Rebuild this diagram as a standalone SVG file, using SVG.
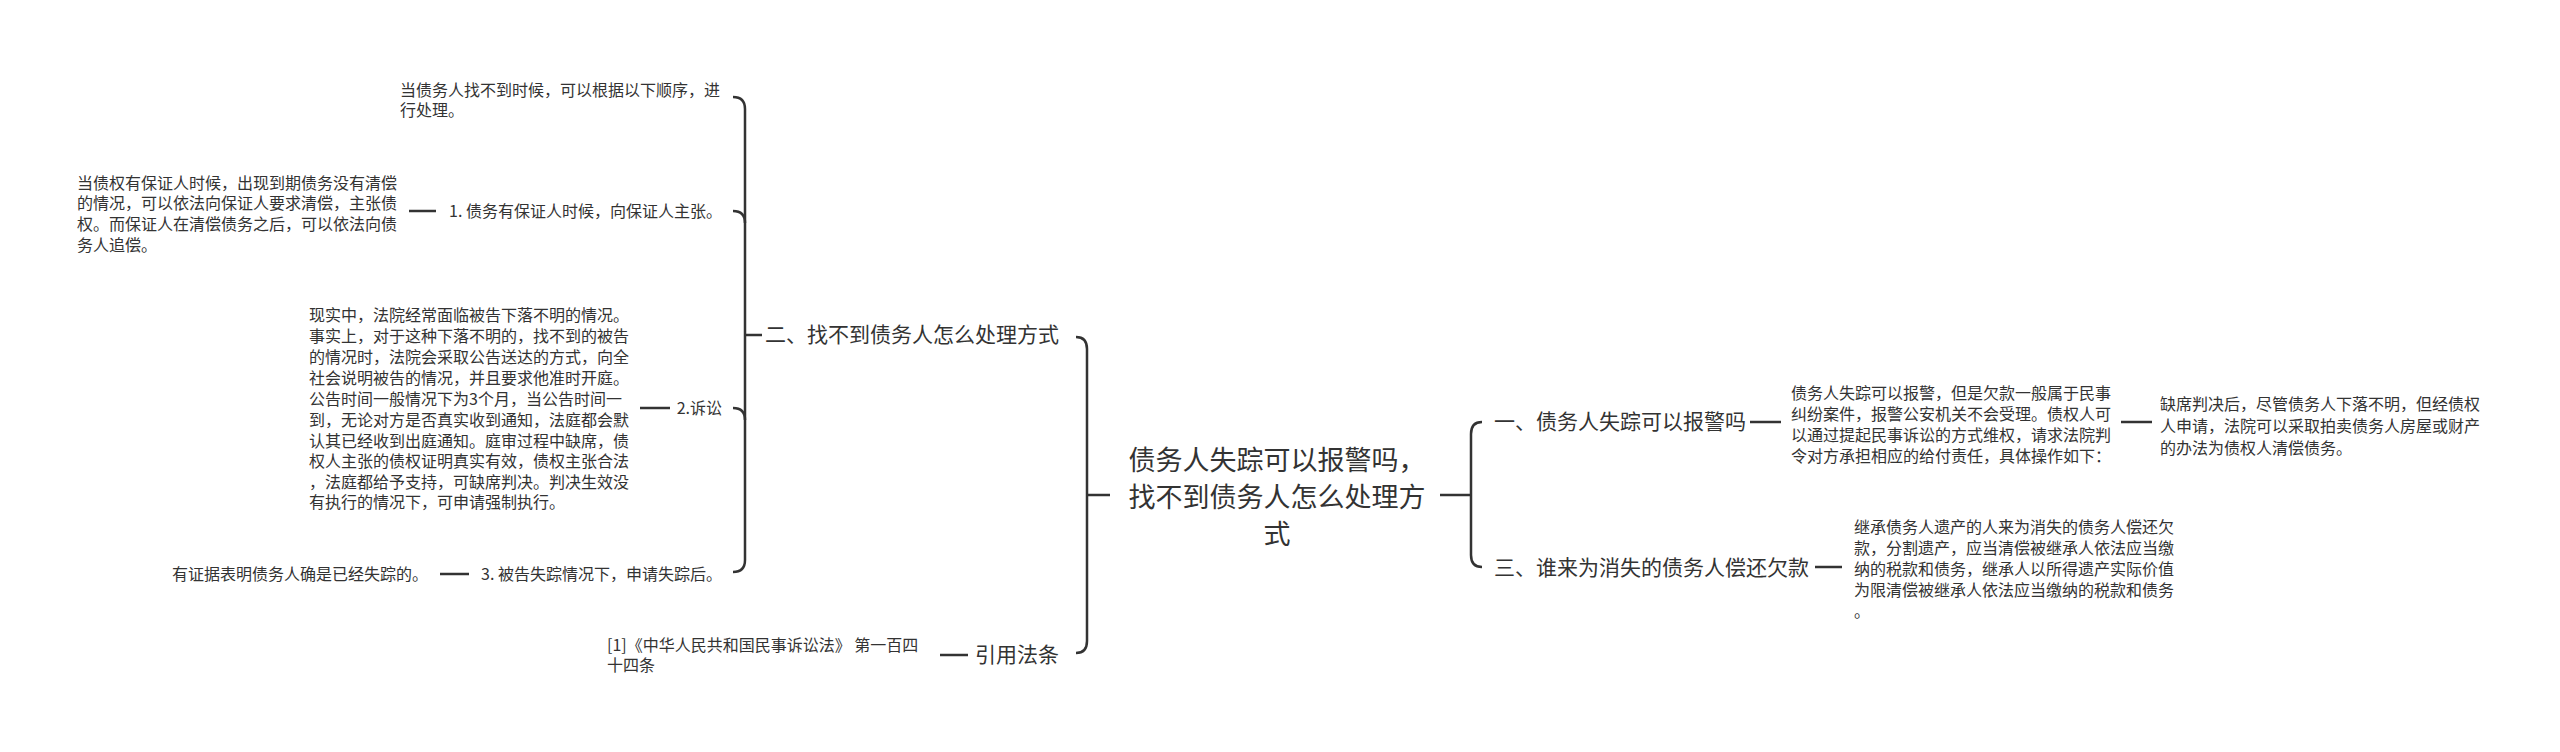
<svg xmlns="http://www.w3.org/2000/svg" width="2560" height="752" viewBox="0 0 2560 752">
<style>
text{font-family:"Noto Sans CJK SC","Liberation Sans",sans-serif;fill:#333}
.s{font-size:16px}.m{font-size:21px}.r{font-size:27px}
.c path,.c line{stroke:#333;stroke-width:2.5;fill:none}
</style>
<rect width="2560" height="752" fill="#fff"/>
<g class="c" id="connectors">
<!-- root right bracket -->
<line x1="1440" y1="495" x2="1471" y2="495"/>
<path d="M1482 422 Q1471 422 1471 434 V555 Q1471 567 1482 567"/>
<line x1="1750" y1="422" x2="1781" y2="422"/>
<line x1="2121" y1="422" x2="2152" y2="422"/>
<line x1="1815" y1="567" x2="1842" y2="567"/>
<!-- root left bracket -->
<line x1="1087" y1="495" x2="1110" y2="495"/>
<path d="M1076 337 Q1087 337 1087 349 V641 Q1087 653 1076 653"/>
<line x1="940" y1="655" x2="968" y2="655"/>
<!-- 二 bracket -->
<line x1="745" y1="335" x2="762" y2="335"/>
<path d="M733 97 Q745 97 745 109 V560 Q745 572 733 572"/>
<path d="M733 211 Q745 211 745 223"/>
<path d="M733 408 Q745 408 745 420"/>
<line x1="409" y1="211" x2="436" y2="211"/>
<line x1="640" y1="408" x2="670" y2="408"/>
<line x1="440" y1="574" x2="469" y2="574"/>
</g>
<g id="root"><text class="r" x="1277" y="470" text-anchor="middle">债务人失踪可以报警吗，</text><text class="r" x="1277" y="507" text-anchor="middle">找不到债务人怎么处理方</text><text class="r" x="1277" y="544" text-anchor="middle">式</text></g>
<g id="n1"><text class="m" x="1494" y="429">一、债务人失踪可以报警吗</text></g>
<g id="n1a" class="s"><text x="1791" y="399">债务人失踪可以报警，但是欠款一般属于民事</text><text x="1791" y="420">纠纷案件，报警公安机关不会受理。债权人可</text><text x="1791" y="441">以通过提起民事诉讼的方式维权，请求法院判</text><text x="1791" y="462">令对方承担相应的给付责任，具体操作如下：</text></g>
<g id="n1b" class="s"><text x="2160" y="410">缺席判决后，尽管债务人下落不明，但经债权</text><text x="2160" y="432">人申请，法院可以采取拍卖债务人房屋或财产</text><text x="2160" y="454">的办法为债权人清偿债务。</text></g>
<g id="n3"><text class="m" x="1494" y="575">三、谁来为消失的债务人偿还欠款</text></g>
<g id="n3a" class="s"><text x="1854" y="533">继承债务人遗产的人来为消失的债务人偿还欠</text><text x="1854" y="554">款，分割遗产，应当清偿被继承人依法应当缴</text><text x="1854" y="575">纳的税款和债务，继承人以所得遗产实际价值</text><text x="1854" y="596">为限清偿被继承人依法应当缴纳的税款和债务</text><text x="1854" y="617">。</text></g>
<g id="n2"><text class="m" x="1059" y="342" text-anchor="end">二、找不到债务人怎么处理方式</text></g>
<g id="n2a" class="s"><text x="400" y="96">当债务人找不到时候，可以根据以下顺序，进</text><text x="400" y="116">行处理。</text></g>
<g id="n2b"><text class="s" x="722" y="217" text-anchor="end">1. 债务有保证人时候，向保证人主张。</text></g>
<g id="n2b1" class="s"><text x="77" y="189">当债权有保证人时候，出现到期债务没有清偿</text><text x="77" y="209">的情况，可以依法向保证人要求清偿，主张债</text><text x="77" y="230">权。而保证人在清偿债务之后，可以依法向债</text><text x="77" y="251">务人追偿。</text></g>
<g id="n2c"><text class="s" x="722" y="414" text-anchor="end">2.诉讼</text></g>
<g id="n2c1" class="s"><text x="309" y="321">现实中，法院经常面临被告下落不明的情况。</text><text x="309" y="342">事实上，对于这种下落不明的，找不到的被告</text><text x="309" y="363">的情况时，法院会采取公告送达的方式，向全</text><text x="309" y="384">社会说明被告的情况，并且要求他准时开庭。</text><text x="309" y="405">公告时间一般情况下为3个月，当公告时间一</text><text x="309" y="426">到，无论对方是否真实收到通知，法庭都会默</text><text x="309" y="447">认其已经收到出庭通知。庭审过程中缺席，债</text><text x="309" y="467">权人主张的债权证明真实有效，债权主张合法</text><text x="309" y="488">，法庭都给予支持，可缺席判决。判决生效没</text><text x="309" y="508">有执行的情况下，可申请强制执行。</text></g>
<g id="n2d"><text class="s" x="722" y="580" text-anchor="end">3. 被告失踪情况下，申请失踪后。</text></g>
<g id="n2d1"><text class="s" x="428" y="580" text-anchor="end">有证据表明债务人确是已经失踪的。</text></g>
<g id="n4"><text class="m" x="1059" y="662" text-anchor="end">引用法条</text></g>
<g id="n4a" class="s"><text x="607" y="651">[1]《中华人民共和国民事诉讼法》 第一百四</text><text x="607" y="671">十四条</text></g>
</svg>
